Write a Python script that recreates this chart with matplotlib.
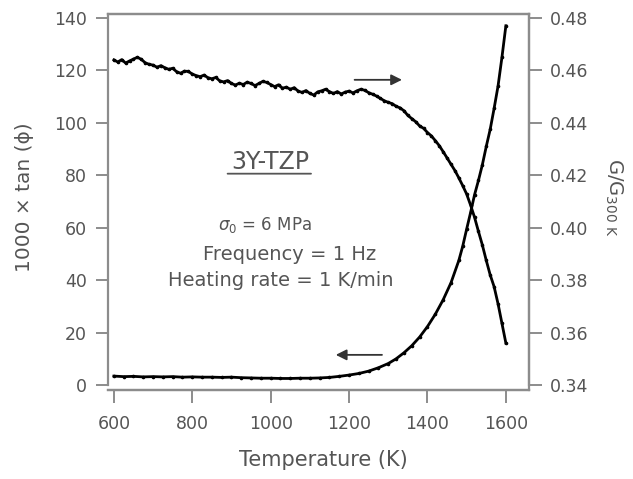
import numpy as np
import matplotlib
matplotlib.use('Agg')
import matplotlib.pyplot as plt

# G/G300K (heating run)
T_g = [600, 610, 620, 630, 640, 650, 660, 670, 680, 690,
       700, 710, 720, 730, 740, 750, 760, 770, 780, 790,
       800, 810, 820, 830, 840, 850, 860, 870, 880, 890,
       900, 910, 920, 930, 940, 950, 960, 970, 980, 990,
       1000, 1010, 1020, 1030, 1040, 1050, 1060, 1070, 1080, 1090,
       1100, 1110, 1120, 1130, 1140, 1150, 1160, 1170, 1180, 1190,
       1200, 1210, 1220, 1230, 1240, 1250, 1260, 1270, 1280, 1290,
       1300, 1310, 1320, 1330, 1340, 1350, 1360, 1370, 1380, 1390,
       1400, 1410, 1420, 1430, 1440, 1450, 1460, 1470, 1480, 1490,
       1500, 1510, 1520, 1530, 1540, 1550, 1560, 1570, 1580, 1590, 1600]
G_ratio = [0.4640, 0.4632, 0.4641, 0.4628, 0.4636, 0.4643, 0.4650, 0.4642, 0.4629, 0.4623,
           0.4620, 0.4612, 0.4618, 0.4610, 0.4604, 0.4608, 0.4595, 0.4589, 0.4597, 0.4596,
           0.4586, 0.4580, 0.4576, 0.4582, 0.4572, 0.4568, 0.4573, 0.4560, 0.4556, 0.4561,
           0.4550, 0.4544, 0.4551, 0.4546, 0.4555, 0.4550, 0.4542, 0.4550, 0.4558, 0.4554,
           0.4546, 0.4538, 0.4545, 0.4532, 0.4536, 0.4528, 0.4534, 0.4521, 0.4516, 0.4523,
           0.4512, 0.4506, 0.4518, 0.4522, 0.4528, 0.4519, 0.4512, 0.4519, 0.4510, 0.4517,
           0.4521, 0.4514, 0.4522, 0.4528, 0.4524, 0.4515, 0.4509, 0.4502, 0.4493, 0.4484,
           0.4478, 0.4473, 0.4463, 0.4457, 0.4446, 0.4428, 0.4416, 0.4404, 0.4388, 0.4379,
           0.4363, 0.4350, 0.4332, 0.4313, 0.4290, 0.4266, 0.4242, 0.4218, 0.4190, 0.4160,
           0.4128, 0.4086, 0.4040, 0.3986, 0.3934, 0.3875, 0.3820, 0.3775, 0.3710, 0.3635, 0.3560]

# 1000 x tan(phi)
T_tan = [600, 625, 650, 675, 700, 725, 750, 775, 800, 825,
         850, 875, 900, 925, 950, 975, 1000, 1025, 1050, 1075,
         1100, 1125, 1150, 1175, 1200, 1225, 1250, 1275, 1300, 1320,
         1340, 1360, 1380, 1400, 1420, 1440, 1460, 1480, 1490, 1500,
         1510, 1520, 1530, 1540, 1550, 1560, 1570, 1580, 1590, 1600]
tan_phi = [3.4, 3.2, 3.3, 3.1, 3.2, 3.1, 3.2, 3.0, 3.1, 3.0,
           3.0, 2.9, 3.0, 2.8, 2.7, 2.6, 2.6, 2.5, 2.5, 2.6,
           2.6, 2.7, 2.9, 3.3, 3.8, 4.4, 5.3, 6.6, 8.2, 10.0,
           12.3, 15.0, 18.3, 22.3, 27.0, 32.5, 39.0, 47.5, 53.0, 59.5,
           65.8, 72.5, 78.0, 84.0, 91.0, 97.5, 105.5, 114.0, 125.0, 137.0]

x_ticks = [600, 800, 1000, 1200, 1400, 1600]
left_ticks = [0, 20, 40, 60, 80, 100, 120, 140]
right_ticks = [0.34, 0.36, 0.38, 0.40, 0.42, 0.44, 0.46, 0.48]

grey = '#8c8c8c'
txt = '#555555'

fig = plt.figure(figsize=(6.33, 4.79), dpi=100)
ax = fig.add_axes([108/633, 1-390/479, 421/633, 376/479])
ax2 = ax.twinx()

ax.plot(T_tan, tan_phi, color='black', lw=2, marker='o', ms=1.6)
ax2.plot(T_g, G_ratio, color='black', lw=2, marker='o', ms=1.6)

ax.set_xlim(585, 1659)
ax.set_ylim(-1.9, 141.5)
ax2.set_ylim(0.34 - 0.0019, 0.4815)

ax.set_xticks(x_ticks)
ax.set_yticks(left_ticks)
ax2.set_yticks(right_ticks)
ax2.set_yticklabels(['%.2f' % v for v in right_ticks])

for a in (ax, ax2):
    for s in a.spines.values():
        s.set_color(grey)
        s.set_linewidth(1.6)
    a.tick_params(colors=grey, labelcolor=txt, labelsize=12.5, length=9, width=1.4, pad=6)
ax.tick_params(axis='x', pad=9)
ax.spines['left'].set_bounds(0, 141.5)
ax2.spines['right'].set_bounds(0.34, 0.4815)
ax2.spines['left'].set_visible(False)

fig.text(323/633, 1-460/479, 'Temperature (K)', ha='center', va='center', fontsize=15, color=txt)
fig.text(25/633, 1-197/479, '1000 × tan (ϕ)', ha='center', va='center', rotation=90, fontsize=14.5, color=txt)
fig.text(614/633, 1-197/479, r'G/G$_{\rm 300\ K}$', ha='center', va='center', rotation=-90, fontsize=14, color=txt)

ax.text(998, 85.1, '3Y-TZP', ha='center', va='center', fontsize=17, color=txt)
ax.annotate('', xy=(883, 80.6), xytext=(1110, 80.6),
            arrowprops=dict(arrowstyle='-', color=txt, lw=1.3))
ax.text(865, 61, r'$\sigma_0$ = 6 MPa', ha='left', va='center', fontsize=12, color=txt)
ax.text(827, 49.6, 'Frequency = 1 Hz', ha='left', va='center', fontsize=14, color=txt)
ax.text(738, 40, 'Heating rate = 1 K/min', ha='left', va='center', fontsize=14, color=txt)

ax.annotate('', xy=(1342, 116.4), xytext=(1207, 116.4),
            arrowprops=dict(arrowstyle='-|>', color='#333333', lw=1.3, mutation_scale=16))
ax.annotate('', xy=(1159, 11.5), xytext=(1291, 11.5),
            arrowprops=dict(arrowstyle='-|>', color='#333333', lw=1.3, mutation_scale=16))

fig.savefig('out.png', dpi=100)
